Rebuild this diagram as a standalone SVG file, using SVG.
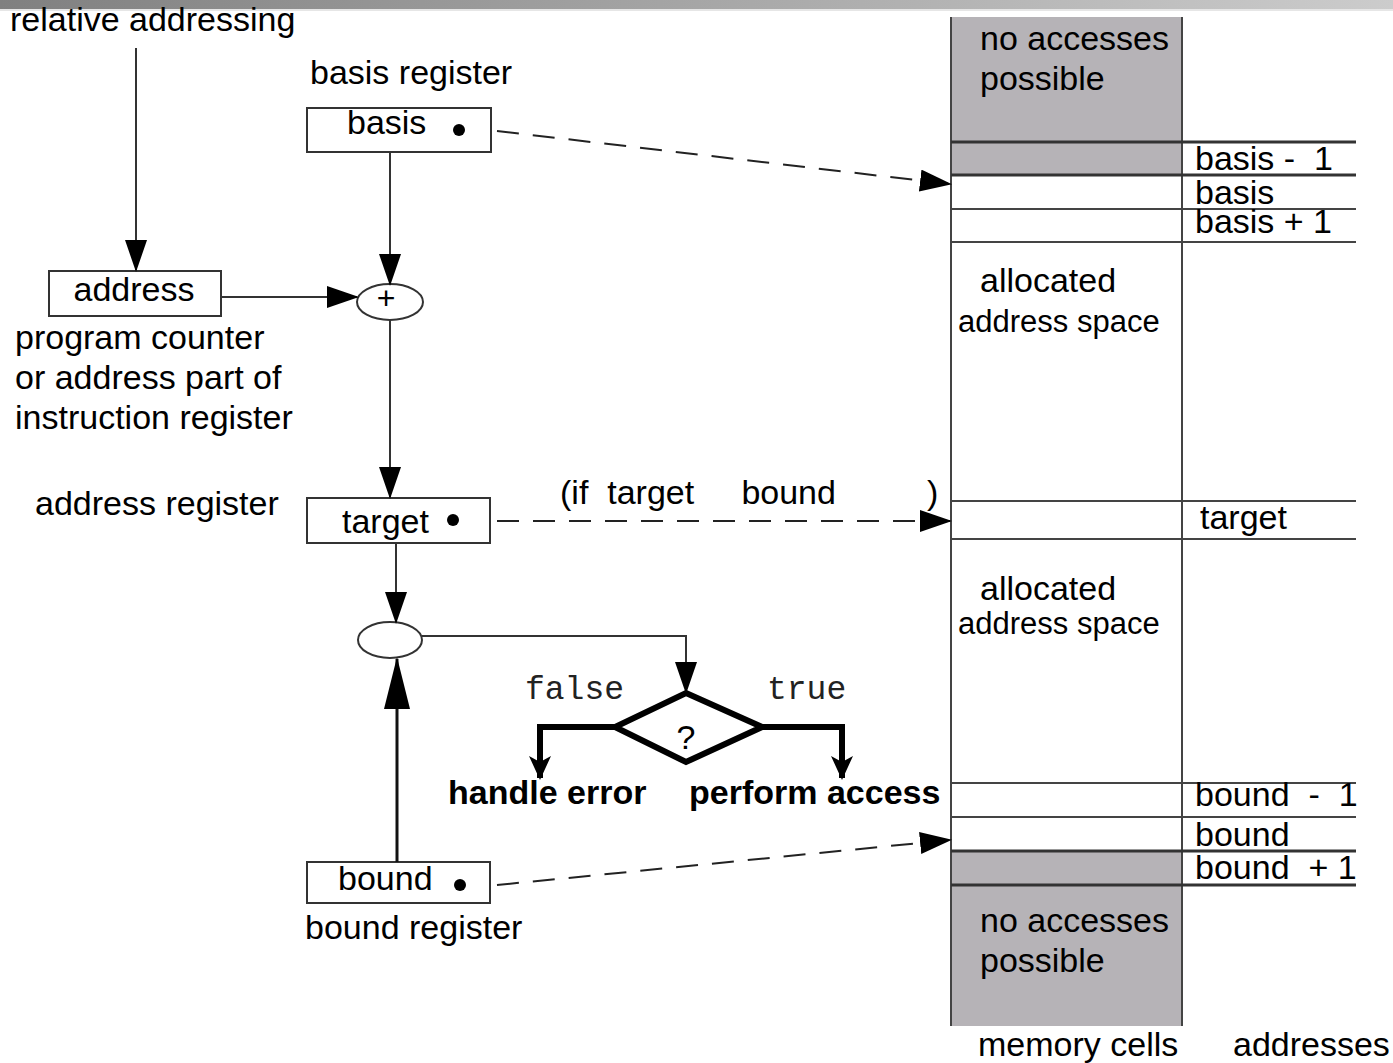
<svg xmlns="http://www.w3.org/2000/svg" width="1393" height="1063" viewBox="0 0 1393 1063">
  <style>
    text { font-family: "Liberation Sans", Arial, sans-serif; font-size: 34px; fill: #000; }
    .mono { font-family: "Liberation Mono", "Courier New", monospace; font-size: 33px; fill: #222; }
    .bold { font-weight: bold; }
    .small { font-size: 31px; }
    .op { font-size: 32px; }
    .q { font-size: 34px; }
    .box { fill: #fff; stroke: #333; stroke-width: 2; }
    .wire { fill: none; stroke: #333; stroke-width: 2; }
    .dash { fill: none; stroke: #222; stroke-width: 2; stroke-dasharray: 22 14; }
    .thick { fill: none; stroke: #000; stroke-width: 6; }
    .cell { stroke: #444; stroke-width: 2; }
    .edge { stroke: #333; stroke-width: 3; }
    .shade { fill: #b6b3b7; }
  </style>
  <defs>
    <linearGradient id="bar" x1="0" y1="0" x2="1" y2="0">
      <stop offset="0" stop-color="#808080"/>
      <stop offset="1" stop-color="#cccccc"/>
    </linearGradient>
    <marker id="ah" markerWidth="32" markerHeight="22" refX="30" refY="11" orient="auto" markerUnits="userSpaceOnUse">
      <path d="M0,0 L32,11 L0,22 z" fill="#000"/>
    </marker>
    <marker id="ahBig" markerWidth="52" markerHeight="26" refX="50" refY="13" orient="auto" markerUnits="userSpaceOnUse">
      <path d="M0,0 L52,13 L0,26 z" fill="#000"/>
    </marker>
    <marker id="ahThick" markerWidth="26" markerHeight="26" refX="22" refY="13" orient="auto" markerUnits="userSpaceOnUse">
      <path d="M0,2 L24,13 L0,24 L6,13 z" fill="#000"/>
    </marker>
  </defs>

  <!-- header band -->
  <rect x="0" y="0" width="1393" height="9" fill="url(#bar)"/>
  <rect x="0" y="9" width="1393" height="2" fill="#e6e6e6"/>

  <!-- memory column -->
  <g id="memory">
    <rect class="shade" x="951" y="17" width="231" height="158"/>
    <rect class="shade" x="951" y="851" width="231" height="175"/>
    <line class="cell" x1="951" y1="17" x2="951" y2="1026"/>
    <line class="cell" x1="1182" y1="17" x2="1182" y2="1026"/>
    <line class="edge" x1="951" y1="142" x2="1356" y2="142"/>
    <line class="edge" x1="951" y1="175" x2="1356" y2="175"/>
    <line class="cell" x1="951" y1="209" x2="1356" y2="209"/>
    <line class="cell" x1="951" y1="242" x2="1356" y2="242"/>
    <line class="cell" x1="951" y1="501" x2="1356" y2="501"/>
    <line class="cell" x1="951" y1="539" x2="1356" y2="539"/>
    <line class="cell" x1="951" y1="783" x2="1356" y2="783"/>
    <line class="cell" x1="951" y1="817" x2="1356" y2="817"/>
    <line class="edge" x1="951" y1="851" x2="1356" y2="851"/>
    <line class="edge" x1="951" y1="885" x2="1356" y2="885"/>
    <text x="980" y="50">no accesses</text>
    <text x="980" y="90">possible</text>
    <text x="980" y="292">allocated</text>
    <text class="small" x="958" y="332">address space</text>
    <text x="980" y="600">allocated</text>
    <text class="small" x="958" y="634">address space</text>
    <text x="980" y="932">no accesses</text>
    <text x="980" y="972">possible</text>
    <text x="1195" y="170" xml:space="preserve">basis -  1</text>
    <text x="1195" y="204">basis</text>
    <text x="1195" y="233">basis + 1</text>
    <text x="1200" y="529">target</text>
    <text x="1195" y="806" xml:space="preserve">bound  -  1</text>
    <text x="1195" y="846">bound</text>
    <text x="1195" y="879" xml:space="preserve">bound  + 1</text>
    <text x="978" y="1056">memory cells</text>
    <text x="1233" y="1056">addresses</text>
  </g>

  <!-- registers and operators -->
  <g id="title">
    <text x="10" y="31">relative addressing</text>
  </g>
  <g id="address">
    <rect class="box" x="49" y="271" width="172" height="45"/>
    <text x="134" y="301" text-anchor="middle">address</text>
    <text x="15" y="349">program counter</text>
    <text x="15" y="389">or address part of</text>
    <text x="15" y="429">instruction register</text>
  </g>
  <g id="basis">
    <text x="310" y="84">basis register</text>
    <rect class="box" x="307" y="108" width="184" height="44"/>
    <text x="347" y="134">basis</text>
    <circle cx="459" cy="130" r="6" fill="#000"/>
  </g>
  <g id="adder">
    <ellipse cx="390" cy="302" rx="33" ry="18" fill="#fff" stroke="#333" stroke-width="2"/>
    <text class="op" x="386" y="309" text-anchor="middle">+</text>
  </g>
  <g id="target">
    <text x="35" y="515">address register</text>
    <rect class="box" x="307" y="498" width="183" height="45"/>
    <text x="342" y="533">target</text>
    <circle cx="453" cy="520" r="6" fill="#000"/>
  </g>
  <g id="comparator">
    <ellipse cx="390" cy="640" rx="32" ry="18" fill="#fff" stroke="#333" stroke-width="2"/>
  </g>
  <g id="bound">
    <rect class="box" x="307" y="862" width="183" height="41"/>
    <text x="338" y="890">bound</text>
    <circle cx="460" cy="885" r="6" fill="#000"/>
    <text x="305" y="939">bound register</text>
  </g>
  <g id="decision">
    <polygon class="thick" points="686,693 762,727 686,762 615,727" stroke-linejoin="miter"/>
    <text class="q" x="686" y="749" text-anchor="middle">?</text>
    <text class="mono" x="525" y="699">false</text>
    <text class="mono" x="767" y="699">true</text>
    <text class="bold" x="448" y="804">handle error</text>
    <text class="bold" x="689" y="804">perform access</text>
  </g>

  <!-- connectors -->
  <g id="connectors">
    <line class="wire" x1="136" y1="48" x2="136" y2="270" marker-end="url(#ah)"/>
    <line class="wire" x1="221" y1="297" x2="357" y2="297" marker-end="url(#ah)"/>
    <line class="wire" x1="390" y1="152" x2="390" y2="284" marker-end="url(#ah)"/>
    <line class="wire" x1="390" y1="320" x2="390" y2="497" marker-end="url(#ah)"/>
    <line class="wire" x1="396" y1="543" x2="396" y2="622" marker-end="url(#ah)"/>
    <line x1="397" y1="862" x2="397" y2="659" stroke="#111" stroke-width="3" marker-end="url(#ahBig)"/>
    <polyline class="wire" points="422,636 686,636 686,692" marker-end="url(#ah)"/>
    <polyline class="thick" points="615,727 540,727 540,778" marker-end="url(#ahThick)"/>
    <polyline class="thick" points="762,727 842,727 842,778" marker-end="url(#ahThick)"/>
    <line class="dash" x1="497" y1="131" x2="950" y2="184" marker-end="url(#ah)"/>
    <line class="dash" x1="497" y1="521" x2="950" y2="521" marker-end="url(#ah)"/>
    <line class="dash" x1="497" y1="885" x2="950" y2="840" marker-end="url(#ah)"/>
    <text x="560" y="504" xml:space="preserve">(if  target     bound</text>
    <text x="927" y="504">)</text>
  </g>
</svg>
